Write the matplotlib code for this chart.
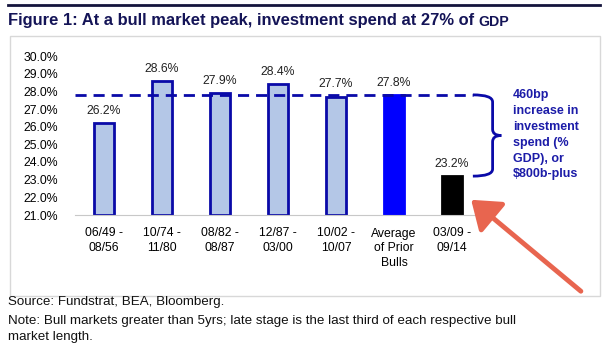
import numpy as np
import matplotlib
matplotlib.use('Agg')
import matplotlib.pyplot as plt
from matplotlib.path import Path
from matplotlib.patches import PathPatch, Rectangle, FancyArrowPatch
from matplotlib.lines import Line2D

plt.rcParams['font.family'] = ['Liberation Sans', 'DejaVu Sans']

# data
periods = ['06/49 -\n08/56', '10/74 -\n11/80', '08/82 -\n08/87', '12/87 -\n03/00',
           '10/02 -\n10/07', 'Average\nof Prior\nBulls', '03/09 -\n09/14']
values = [26.2, 28.6, 27.9, 28.4, 27.7, 27.8, 23.2]
avg_value = 27.8
current_value = 23.2
yticks = np.arange(21, 30.01, 1.0)

face = ['#B4C7E7'] * 5 + ['#0000FF', '#000000']
edge = ['#0A0AA8'] * 5 + ['#0000FF', '#000000']

fig = plt.figure(figsize=(6.08, 3.58), dpi=100)
fig.patch.set_facecolor('white')

# top rule, title and frame
fig.add_artist(Line2D([8 / 608, 600 / 608], [1 - 5 / 358, 1 - 5 / 358],
                      transform=fig.transFigure, color='#14143C', lw=2))
t = fig.text(8 / 608, 1 - 21 / 358, 'Figure 1: At a bull market peak, investment spend at 27% of ',
             fontsize=11.9, fontweight='bold', color='#141457', va='center', ha='left')
r = fig.canvas.get_renderer()
bb = t.get_window_extent(r)
fig.text(bb.x1 / 608, 1 - 21.5 / 358, 'GDP', fontsize=10.2, fontweight='bold', color='#141457',
         va='center', ha='left')
fig.add_artist(Rectangle((10 / 608, 1 - 296 / 358), 590 / 608, 260 / 358,
                         transform=fig.transFigure, fill=False, ec='#D8D8D8', lw=1))

ax = fig.add_axes([75 / 608, 1 - 215 / 358, 406 / 608, 159 / 358])
x = np.arange(len(values))
ax.bar(x, np.array(values) - 21, bottom=21, width=0.33, color=face, edgecolor=edge, linewidth=2, zorder=2)
ax.set_xlim(-0.5, len(values) - 0.5)
ax.set_ylim(21, 30)
ax.set_yticks(yticks)
ax.set_yticklabels(['%.1f%%' % v for v in yticks], fontsize=8.8)
ax.set_xticks(x)
ax.set_xticklabels(periods, fontsize=8.8, linespacing=1.3)
ax.tick_params(length=0)
ax.tick_params(axis='y', pad=12)
ax.tick_params(axis='x', pad=9)
for s in ['top', 'right', 'left']:
    ax.spines[s].set_visible(False)
ax.spines['bottom'].set_color('#C8C8C8')
ax.spines['bottom'].set_zorder(3)

for xi, v in zip(x, values):
    ax.text(xi, v + 0.35, '%.1f%%' % v, ha='center', va='bottom', fontsize=8.8, color='#222222')

# average dashed line
ax.plot([-0.5, 6.36], [avg_value, avg_value], ls=(0, (4, 2.5)), color='#0A0AA8', lw=2, zorder=3, clip_on=False)

# curly brace
x0, x1, x2 = 6.36, 6.7, 6.85
mid = (avg_value + current_value) / 2
verts = [(x0, avg_value), (x1, avg_value), (x1, avg_value - 0.4),
         (x1, mid + 0.35), (x1, mid), (x2, mid),
         (x1, mid), (x1, mid - 0.35), (x1, current_value + 0.4),
         (x1, current_value), (x0, current_value)]
codes = [Path.MOVETO, Path.CURVE3, Path.CURVE3, Path.LINETO, Path.CURVE3, Path.CURVE3,
         Path.CURVE3, Path.CURVE3, Path.LINETO, Path.CURVE3, Path.CURVE3]
ax.add_patch(PathPatch(Path(verts, codes), fill=False, ec='#0A0AA8', lw=2, clip_on=False))

ax.text(7.05, 28.15, '460bp\nincrease in\ninvestment\nspend (%\nGDP), or\n$800b-plus',
        ha='left', va='top', fontsize=9, fontweight='bold', color='#1C1CA8', linespacing=1.44,
        clip_on=False)

# red arrow
fig.add_artist(FancyArrowPatch((583, 358 - 293), (469, 358 - 198), transform=None,
                               arrowstyle='-|>,head_length=11,head_width=8',
                               color='#E8654F', lw=3.5, mutation_scale=1.5))

fig.text(8 / 608, 1 - 302 / 358, 'Source: Fundstrat, BEA, Bloomberg.', fontsize=9.6, va='center', color='#111111')
fig.text(8 / 608, 1 - 329 / 358,
         'Note: Bull markets greater than 5yrs; late stage is the last third of each respective bull\nmarket length.',
         fontsize=9.6, va='center', color='#111111', linespacing=1.45)

fig.savefig('out.png', dpi=100)
